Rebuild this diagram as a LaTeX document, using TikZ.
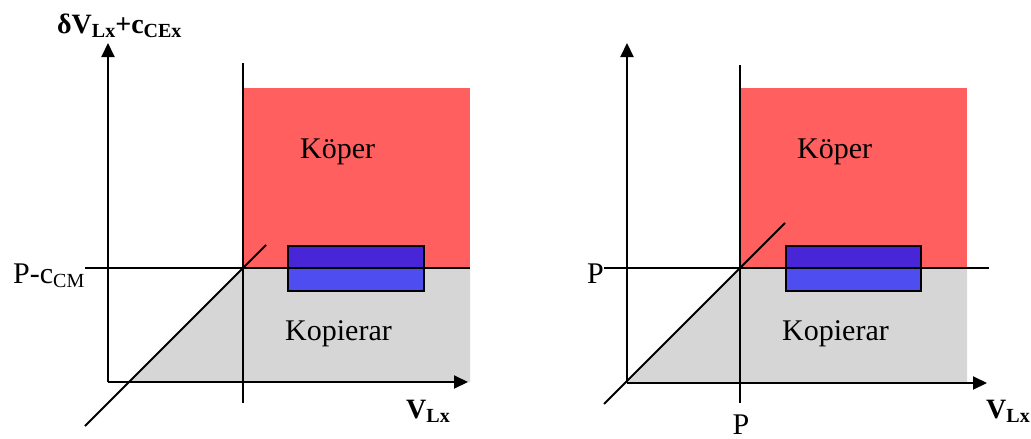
\documentclass[tikz,border=0pt]{standalone}
\usepackage{fontspec}
\setmainfont{Liberation Serif}
\usetikzlibrary{arrows.meta}
\definecolor{redfill}{RGB}{255,95,95}
\definecolor{grayfill}{RGB}{214,214,214}
\definecolor{bluetop}{RGB}{72,38,215}
\definecolor{bluebot}{RGB}{78,78,240}
\newcommand\subtxt[1]{\raisebox{-4pt}{\fontsize{20}{20}\selectfont #1}}
\newcommand\subreg[1]{\raisebox{-4pt}{\fontsize{20}{20}\selectfont #1}}
\begin{document}
\begin{tikzpicture}[x=1pt,y=-1pt,
  axisline/.style={line width=2pt,-{Triangle[length=14pt,width=13pt]}},
  guide/.style={line width=1.8pt},
  bluebox/.style={line width=2.4pt,draw=black},
  lbl/.style={inner sep=0pt,anchor=base west,font=\fontsize{30}{30}\selectfont},
  blbl/.style={inner sep=0pt,anchor=base west,font=\fontsize{28}{28}\selectfont\bfseries}]
\useasboundingbox (0,0) rectangle (1031,439);

% ---------- left panel ----------
\coordinate (lO) at (108,382);
\coordinate (lYt) at (108,43);
\coordinate (lXt) at (468,382);
\coordinate (lVt) at (243,63);
\coordinate (lVb) at (243,403);
\coordinate (lHl) at (85,268);
\coordinate (lHr) at (470,268);
\coordinate (lDb) at (85,426);
\coordinate (lDt) at (266,245);
\coordinate (lC) at (243,268);

\fill[redfill] (243,88) rectangle (470,268);
\fill[grayfill] (lC) -- (470,268) -- (470,382) -- (130,382) -- cycle;
\fill[bluetop] (288,246) rectangle (424,268);
\fill[bluebot] (288,268) rectangle (424,291);
\draw[bluebox] (288,246) rectangle (424,291);

\draw[guide] (lVt) -- (lVb);
\draw[guide] (lHl) -- (lHr);
\draw[guide] (lDb) -- (lDt);
\draw[axisline] (lO) -- (lYt);
\draw[axisline] (lO) -- (lXt);

\node[blbl] (ltop) at (57,33) {δV\subtxt{Lx}+c\subtxt{CEx}};
\node[blbl] (lvx) at (406,418) {V\subtxt{Lx}};
\node[lbl] (lpc) at (13,283) {P-c\subreg{\mdseries CM}};
\node[lbl] (lkoper) at (300,158) {Köper};
\node[lbl] (lkop) at (285,340) {Kopierar};

% ---------- right panel ----------
\coordinate (rO) at (627,383);
\coordinate (rYt) at (627,43);
\coordinate (rXt) at (987,383);
\coordinate (rVt) at (740,65);
\coordinate (rVb) at (740,403);
\coordinate (rHl) at (604,268);
\coordinate (rHr) at (989,268);
\coordinate (rDb) at (604,404);
\coordinate (rDt) at (785,223);
\coordinate (rC) at (740,268);

\fill[redfill] (740,88) rectangle (967,268);
\fill[grayfill] (rC) -- (967,268) -- (967,383) -- (rO) -- cycle;
\fill[bluetop] (786,246) rectangle (921,268);
\fill[bluebot] (786,268) rectangle (921,291);
\draw[bluebox] (786,246) rectangle (921,291);

\draw[guide] (rVt) -- (rVb);
\draw[guide] (rHl) -- (rHr);
\draw[guide] (rDb) -- (rDt);
\draw[axisline] (rO) -- (rYt);
\draw[axisline] (rO) -- (rXt);

\node[blbl] (rvx) at (986,418) {V\subtxt{Lx}};
\node[lbl] (rp) at (587,283) {P};
\node[lbl,anchor=base] (rpb) at (741,434) {P};
\node[lbl] (rkoper) at (797,158) {Köper};
\node[lbl] (rkop) at (782,340) {Kopierar};
\end{tikzpicture}
\end{document}
